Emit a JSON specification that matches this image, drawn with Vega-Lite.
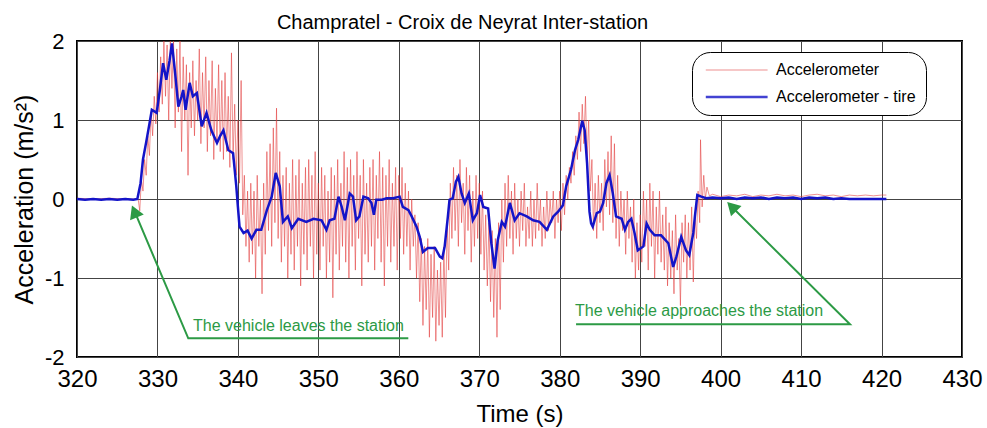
{
  "$schema": "https://vega.github.io/schema/vega-lite/v6.json",
  "width": 885,
  "height": 316,
  "autosize": {"type": "none"},
  "padding": {"left": 77, "top": 41, "right": 25, "bottom": 71},
  "background": "white",
  "config": {
    "font": "Liberation Sans",
    "view": {"stroke": "black", "strokeWidth": 2},
    "axis": {"grid": true, "gridColor": "#444444", "gridWidth": 1, "domain": false, "ticks": false, "labelColor": "black", "titleColor": "black", "titleFontWeight": "normal", "labelFlush": false, "labelOverlap": false}
  },
  "title": {"text": "Champratel - Croix de Neyrat Inter-station", "fontSize": 20, "fontWeight": "normal", "color": "black", "anchor": "middle", "dx": -57, "offset": -3},
  "datasets": {
    "red": [
      {"t":320,"a":0.01},{"t":322,"a":0},{"t":324,"a":0.01},{"t":326,"a":0},{"t":327.6,"a":0},
      {"t":327.8,"a":-0.15},{"t":328.0,"a":0.25},{"t":328.2,"a":0.1},{"t":328.4,"a":0.5},{"t":328.6,"a":0.3},{"t":328.8,"a":0.8},{"t":329.0,"a":0.55},{"t":329.2,"a":1.1},{"t":329.4,"a":0.8},{"t":329.6,"a":1.3},{"t":329.8,"a":0.95},
      {"t":330.0,"a":1.6},{"t":330.2,"a":1.1},{"t":330.4,"a":1.8},{"t":330.6,"a":1.2},{"t":330.8,"a":2.0},{"t":331.0,"a":1.3},{"t":331.2,"a":1.95},{"t":331.4,"a":1.0},{"t":331.6,"a":2.0},{"t":331.8,"a":1.4},
      {"t":332.0,"a":2.0},{"t":332.2,"a":0.9},{"t":332.4,"a":1.9},{"t":332.6,"a":1.1},{"t":332.8,"a":2.0},{"t":333.0,"a":0.6},{"t":333.2,"a":1.8},{"t":333.4,"a":1.0},{"t":333.6,"a":1.7},{"t":333.8,"a":0.3},
      {"t":334.0,"a":1.6},{"t":334.2,"a":0.9},{"t":334.4,"a":1.75},{"t":334.6,"a":0.8},{"t":334.8,"a":1.5},{"t":335.0,"a":1.0},{"t":335.2,"a":1.9},{"t":335.4,"a":0.7},{"t":335.6,"a":1.6},{"t":335.8,"a":0.9},
      {"t":336.0,"a":1.8},{"t":336.2,"a":0.6},{"t":336.4,"a":1.5},{"t":336.6,"a":0.8},{"t":336.8,"a":1.75},{"t":337.0,"a":0.5},{"t":337.2,"a":1.4},{"t":337.4,"a":0.7},{"t":337.6,"a":1.7},{"t":337.8,"a":0.6},
      {"t":338.0,"a":1.5},{"t":338.2,"a":0.5},{"t":338.4,"a":1.6},{"t":338.6,"a":0.6},{"t":338.8,"a":1.3},{"t":339.0,"a":0.4},{"t":339.2,"a":1.85},{"t":339.4,"a":0.5},{"t":339.6,"a":1.2},{"t":339.8,"a":0.3},
      {"t":340.0,"a":1.0},{"t":340.2,"a":0.2},{"t":340.4,"a":1.5},{"t":340.6,"a":-0.2},{"t":340.8,"a":0.3},{"t":341.0,"a":-0.6},{"t":341.2,"a":0.1},{"t":341.4,"a":-0.8},{"t":341.6,"a":0.2},{"t":341.8,"a":-0.7},
      {"t":342.0,"a":0.1},{"t":342.2,"a":-1.0},{"t":342.4,"a":0.3},{"t":342.6,"a":-0.6},{"t":342.8,"a":0.0},{"t":343.0,"a":-1.2},{"t":343.2,"a":0.2},{"t":343.4,"a":-0.7},{"t":343.6,"a":0.6},{"t":343.8,"a":-0.4},
      {"t":344.0,"a":0.7},{"t":344.2,"a":-0.6},{"t":344.4,"a":0.9},{"t":344.6,"a":-0.3},{"t":344.8,"a":1.15},{"t":345.0,"a":-0.5},{"t":345.2,"a":0.6},{"t":345.4,"a":-0.8},{"t":345.6,"a":0.3},{"t":345.8,"a":-0.6},
      {"t":346.0,"a":0.4},{"t":346.2,"a":-1.0},{"t":346.4,"a":0.2},{"t":346.6,"a":-0.7},{"t":346.8,"a":0.5},{"t":347.0,"a":-0.9},{"t":347.2,"a":0.3},{"t":347.4,"a":-0.6},{"t":347.6,"a":0.5},{"t":347.8,"a":-1.1},
      {"t":348.0,"a":0.2},{"t":348.2,"a":-0.7},{"t":348.4,"a":0.4},{"t":348.6,"a":-0.9},{"t":348.8,"a":0.5},{"t":349.0,"a":-0.6},{"t":349.2,"a":0.3},{"t":349.4,"a":-1.0},{"t":349.6,"a":0.6},{"t":349.8,"a":-0.7},
      {"t":350.0,"a":0.2},{"t":350.2,"a":-0.9},{"t":350.4,"a":0.4},{"t":350.6,"a":-0.6},{"t":350.8,"a":0.3},{"t":351.0,"a":-1.0},{"t":351.2,"a":0.1},{"t":351.4,"a":-0.8},{"t":351.6,"a":0.4},{"t":351.8,"a":-1.25},
      {"t":352.0,"a":0.3},{"t":352.2,"a":-0.7},{"t":352.4,"a":0.5},{"t":352.6,"a":-0.9},{"t":352.8,"a":0.2},{"t":353.0,"a":-0.6},{"t":353.2,"a":0.6},{"t":353.4,"a":-0.8},{"t":353.6,"a":0.4},{"t":353.8,"a":-1.0},
      {"t":354.0,"a":0.5},{"t":354.2,"a":-0.6},{"t":354.4,"a":0.3},{"t":354.6,"a":-0.9},{"t":354.8,"a":0.6},{"t":355.0,"a":-0.5},{"t":355.2,"a":0.3},{"t":355.4,"a":-1.1},{"t":355.6,"a":0.5},{"t":355.8,"a":-0.7},
      {"t":356.0,"a":0.2},{"t":356.2,"a":-0.8},{"t":356.4,"a":0.4},{"t":356.6,"a":-0.6},{"t":356.8,"a":0.5},{"t":357.0,"a":-0.9},{"t":357.2,"a":0.3},{"t":357.4,"a":-0.5},{"t":357.6,"a":0.6},{"t":357.8,"a":-0.8},
      {"t":358.0,"a":0.4},{"t":358.2,"a":-1.1},{"t":358.4,"a":0.3},{"t":358.6,"a":-0.6},{"t":358.8,"a":0.5},{"t":359.0,"a":-0.8},{"t":359.2,"a":0.2},{"t":359.4,"a":-0.6},{"t":359.6,"a":0.4},{"t":359.8,"a":-0.9},
      {"t":360.0,"a":0.3},{"t":360.2,"a":-0.5},{"t":360.4,"a":0.4},{"t":360.6,"a":-0.7},{"t":360.8,"a":0.2},{"t":361.0,"a":-0.6},{"t":361.2,"a":0.1},{"t":361.4,"a":-0.9},{"t":361.6,"a":0.0},{"t":361.8,"a":-0.6},
      {"t":362.0,"a":-0.2},{"t":362.2,"a":-1.0},{"t":362.4,"a":-0.3},{"t":362.6,"a":-1.3},{"t":362.8,"a":-0.5},{"t":363.0,"a":-1.6},{"t":363.2,"a":-0.6},{"t":363.4,"a":-1.4},{"t":363.6,"a":-0.5},{"t":363.8,"a":-1.75},
      {"t":364.0,"a":-0.7},{"t":364.2,"a":-1.5},{"t":364.4,"a":-0.6},{"t":364.6,"a":-1.8},{"t":364.8,"a":-0.9},{"t":365.0,"a":-1.6},{"t":365.2,"a":-0.8},{"t":365.4,"a":-1.75},{"t":365.6,"a":-0.6},{"t":365.8,"a":-1.5},
      {"t":366.0,"a":-0.3},{"t":366.2,"a":-0.9},{"t":366.4,"a":0.2},{"t":366.6,"a":-0.5},{"t":366.8,"a":0.4},{"t":367.0,"a":-0.4},{"t":367.2,"a":0.3},{"t":367.4,"a":-0.6},{"t":367.6,"a":0.5},{"t":367.8,"a":-0.3},
      {"t":368.0,"a":0.2},{"t":368.2,"a":-0.7},{"t":368.4,"a":0.4},{"t":368.6,"a":-0.4},{"t":368.8,"a":0.3},{"t":369.0,"a":-0.8},{"t":369.2,"a":0.1},{"t":369.4,"a":-0.6},{"t":369.6,"a":0.3},{"t":369.8,"a":-0.5},
      {"t":370.0,"a":0.2},{"t":370.2,"a":-0.7},{"t":370.4,"a":0.1},{"t":370.6,"a":-0.9},{"t":370.8,"a":-0.2},{"t":371.0,"a":-1.1},{"t":371.2,"a":-0.3},{"t":371.4,"a":-1.3},{"t":371.6,"a":-0.4},{"t":371.8,"a":-1.5},
      {"t":372.0,"a":-0.5},{"t":372.2,"a":-1.75},{"t":372.4,"a":-0.3},{"t":372.6,"a":-1.4},{"t":372.8,"a":0.0},{"t":373.0,"a":-0.8},{"t":373.2,"a":0.2},{"t":373.4,"a":-0.6},{"t":373.6,"a":0.3},{"t":373.8,"a":-0.5},
      {"t":374.0,"a":0.1},{"t":374.2,"a":-0.7},{"t":374.4,"a":0.2},{"t":374.6,"a":-0.5},{"t":374.8,"a":0.0},{"t":375.0,"a":-0.6},{"t":375.2,"a":0.1},{"t":375.4,"a":-0.4},{"t":375.6,"a":0.2},{"t":375.8,"a":-0.6},
      {"t":376.0,"a":-0.1},{"t":376.2,"a":-0.5},{"t":376.4,"a":0.1},{"t":376.6,"a":-0.6},{"t":376.8,"a":0.0},{"t":377.0,"a":-0.5},{"t":377.2,"a":0.2},{"t":377.4,"a":-0.4},{"t":377.6,"a":0.0},{"t":377.8,"a":-0.6},
      {"t":378.0,"a":-0.1},{"t":378.2,"a":-0.5},{"t":378.4,"a":0.1},{"t":378.6,"a":-0.4},{"t":378.8,"a":0.0},{"t":379.0,"a":-0.3},{"t":379.2,"a":0.1},{"t":379.4,"a":-0.5},{"t":379.6,"a":0.0},{"t":379.8,"a":-0.3},
      {"t":380.0,"a":0.1},{"t":380.2,"a":-0.4},{"t":380.4,"a":0.2},{"t":380.6,"a":-0.2},{"t":380.8,"a":0.3},{"t":381.0,"a":0.0},{"t":381.2,"a":0.4},{"t":381.4,"a":0.2},{"t":381.6,"a":0.6},{"t":381.8,"a":0.3},
      {"t":382.0,"a":0.8},{"t":382.2,"a":0.5},{"t":382.4,"a":1.1},{"t":382.6,"a":0.6},{"t":382.8,"a":1.2},{"t":383.0,"a":0.7},{"t":383.2,"a":1.3},{"t":383.4,"a":0.5},{"t":383.6,"a":1.0},{"t":383.8,"a":0.1},
      {"t":384.0,"a":0.5},{"t":384.2,"a":-0.4},{"t":384.4,"a":0.2},{"t":384.6,"a":-0.5},{"t":384.8,"a":0.3},{"t":385.0,"a":-0.3},{"t":385.2,"a":0.2},{"t":385.4,"a":-0.4},{"t":385.6,"a":0.5},{"t":385.8,"a":-0.1},
      {"t":386.0,"a":0.6},{"t":386.2,"a":-0.2},{"t":386.4,"a":0.8},{"t":386.6,"a":-0.3},{"t":386.8,"a":0.7},{"t":387.0,"a":-0.5},{"t":387.2,"a":0.3},{"t":387.4,"a":-0.6},{"t":387.6,"a":0.1},{"t":387.8,"a":-0.4},
      {"t":388.0,"a":0.0},{"t":388.2,"a":-0.7},{"t":388.4,"a":0.1},{"t":388.6,"a":-0.5},{"t":388.8,"a":-0.1},{"t":389.0,"a":-0.8},{"t":389.2,"a":0.0},{"t":389.4,"a":-1.0},{"t":389.6,"a":-0.3},{"t":389.8,"a":-0.9},
      {"t":390.0,"a":-0.2},{"t":390.2,"a":-0.8},{"t":390.4,"a":0.1},{"t":390.6,"a":-0.6},{"t":390.8,"a":0.0},{"t":391.0,"a":-0.9},{"t":391.2,"a":0.2},{"t":391.4,"a":-0.6},{"t":391.6,"a":0.1},{"t":391.8,"a":-1.0},
      {"t":392.0,"a":-0.1},{"t":392.2,"a":-0.7},{"t":392.4,"a":0.1},{"t":392.6,"a":-0.8},{"t":392.8,"a":-0.2},{"t":393.0,"a":-0.9},{"t":393.2,"a":-0.1},{"t":393.4,"a":-1.1},{"t":393.6,"a":-0.3},{"t":393.8,"a":-1.0},
      {"t":394.0,"a":-0.4},{"t":394.2,"a":-1.2},{"t":394.4,"a":-0.2},{"t":394.6,"a":-0.9},{"t":394.8,"a":-0.5},{"t":395.0,"a":-1.35},{"t":395.2,"a":-0.3},{"t":395.4,"a":-0.8},{"t":395.6,"a":-0.2},{"t":395.8,"a":-1.0},
      {"t":396.0,"a":-0.3},{"t":396.2,"a":-0.9},{"t":396.4,"a":-0.1},{"t":396.6,"a":-1.05},{"t":396.8,"a":-0.2},{"t":397.0,"a":-0.5},{"t":397.2,"a":0.1},{"t":397.4,"a":-0.3},{"t":397.5,"a":0.75},{"t":397.7,"a":-0.1},
      {"t":397.9,"a":0.3},{"t":398.1,"a":0.0},{"t":398.3,"a":0.15},{"t":398.6,"a":0.04},{"t":399,"a":0.06},{"t":400,"a":0.03},{"t":401,"a":0.05},{"t":402,"a":0.04},{"t":403,"a":0.06},{"t":404,"a":0.03},
      {"t":405,"a":0.05},{"t":406,"a":0.04},{"t":407,"a":0.06},{"t":408,"a":0.04},{"t":409,"a":0.05},{"t":410,"a":0.03},{"t":411,"a":0.05},{"t":412,"a":0.06},{"t":413,"a":0.04},{"t":414,"a":0.05},
      {"t":415,"a":0.03},{"t":416,"a":0.05},{"t":417,"a":0.04},{"t":418,"a":0.05},{"t":419,"a":0.04},{"t":420,"a":0.05},{"t":420.6,"a":0.05}
    ],
    "blue": [
      {"t":320,"a":0},{"t":321,"a":-0.01},{"t":322,"a":0},{"t":323,"a":-0.01},{"t":324,"a":0},{"t":325,"a":-0.01},{"t":326,"a":0},{"t":327,"a":-0.01},{"t":327.5,"a":0},
      {"t":327.9,"a":0.2},{"t":328.2,"a":0.5},{"t":328.6,"a":0.72},{"t":329.0,"a":0.95},{"t":329.3,"a":1.13},{"t":329.9,"a":1.09},{"t":330.3,"a":1.38},{"t":330.7,"a":1.72},{"t":331.1,"a":1.51},{"t":331.5,"a":1.75},
      {"t":331.8,"a":1.97},{"t":332.2,"a":1.59},{"t":332.6,"a":1.17},{"t":333.0,"a":1.3},{"t":333.2,"a":1.38},{"t":333.5,"a":1.13},{"t":334.0,"a":1.47},{"t":334.4,"a":1.30},{"t":334.9,"a":1.34},{"t":335.5,"a":0.92},
      {"t":336.1,"a":1.09},{"t":336.7,"a":0.87},{"t":337.4,"a":0.71},{"t":337.8,"a":0.8},{"t":338.2,"a":0.87},{"t":338.8,"a":0.62},{"t":339.4,"a":0.58},{"t":339.8,"a":0.16},{"t":340.0,"a":-0.1},{"t":340.2,"a":-0.35},
      {"t":340.7,"a":-0.43},{"t":341.2,"a":-0.4},{"t":341.7,"a":-0.50},{"t":342.3,"a":-0.39},{"t":342.9,"a":-0.39},{"t":343.6,"a":-0.14},{"t":344.2,"a":0.03},{"t":344.7,"a":0.33},{"t":345.2,"a":0.16},{"t":345.6,"a":-0.29},
      {"t":346.2,"a":-0.22},{"t":346.7,"a":-0.37},{"t":347.5,"a":-0.25},{"t":348.5,"a":-0.29},{"t":349.4,"a":-0.25},{"t":350.4,"a":-0.27},{"t":351.0,"a":-0.39},{"t":351.4,"a":-0.27},{"t":352.0,"a":-0.25},{"t":352.5,"a":0.03},
      {"t":352.9,"a":-0.10},{"t":353.3,"a":-0.27},{"t":353.9,"a":0.07},{"t":354.3,"a":0.03},{"t":354.7,"a":-0.27},{"t":355.1,"a":-0.22},{"t":355.6,"a":0.03},{"t":356.2,"a":0.01},{"t":356.6,"a":-0.05},{"t":356.9,"a":-0.20},
      {"t":357.2,"a":-0.01},{"t":357.9,"a":-0.01},{"t":358.5,"a":0.01},{"t":359.3,"a":0.01},{"t":360.1,"a":0.03},{"t":360.5,"a":-0.10},{"t":361.2,"a":-0.14},{"t":361.6,"a":-0.22},{"t":362.2,"a":-0.35},{"t":362.6,"a":-0.48},
      {"t":363.0,"a":-0.67},{"t":363.6,"a":-0.62},{"t":364.5,"a":-0.62},{"t":365.1,"a":-0.73},{"t":365.4,"a":-0.75},{"t":365.7,"a":-0.6},{"t":366.1,"a":-0.22},{"t":366.3,"a":-0.01},{"t":366.7,"a":0.01},{"t":367.1,"a":0.22},
      {"t":367.4,"a":0.28},{"t":367.8,"a":0.07},{"t":368.2,"a":-0.05},{"t":368.7,"a":0.07},{"t":369.2,"a":-0.27},{"t":369.7,"a":-0.18},{"t":370.1,"a":0.05},{"t":370.5,"a":-0.10},{"t":371.1,"a":-0.12},{"t":371.5,"a":-0.56},
      {"t":371.9,"a":-0.88},{"t":372.3,"a":-0.52},{"t":372.8,"a":-0.29},{"t":373.2,"a":-0.35},{"t":373.8,"a":-0.05},{"t":374.4,"a":-0.27},{"t":375.0,"a":-0.18},{"t":375.9,"a":-0.22},{"t":376.7,"a":-0.27},{"t":377.5,"a":-0.29},
      {"t":378.4,"a":-0.39},{"t":379.2,"a":-0.22},{"t":379.8,"a":-0.16},{"t":380.4,"a":-0.08},{"t":380.8,"a":0.16},{"t":381.4,"a":0.37},{"t":381.9,"a":0.62},{"t":382.3,"a":0.75},{"t":382.8,"a":0.99},{"t":383.1,"a":0.87},
      {"t":383.4,"a":0.45},{"t":383.7,"a":-0.16},{"t":383.9,"a":-0.31},{"t":384.1,"a":-0.35},{"t":384.6,"a":-0.18},{"t":385.0,"a":-0.16},{"t":385.4,"a":-0.05},{"t":385.8,"a":0.20},{"t":386.2,"a":0.30},{"t":386.6,"a":0.07},
      {"t":387.0,"a":-0.22},{"t":387.7,"a":-0.25},{"t":388.1,"a":-0.39},{"t":388.5,"a":-0.29},{"t":388.9,"a":-0.25},{"t":389.3,"a":-0.43},{"t":389.7,"a":-0.65},{"t":390.4,"a":-0.60},{"t":390.8,"a":-0.31},{"t":391.2,"a":-0.39},
      {"t":391.8,"a":-0.46},{"t":392.6,"a":-0.46},{"t":393.5,"a":-0.56},{"t":394.1,"a":-0.86},{"t":394.5,"a":-0.73},{"t":395.1,"a":-0.48},{"t":395.7,"a":-0.65},{"t":396.1,"a":-0.71},{"t":396.6,"a":-0.43},{"t":396.8,"a":-0.22},
      {"t":397.1,"a":0.05},{"t":397.6,"a":0.03},{"t":398.2,"a":0.01},{"t":399,"a":0.02},{"t":400,"a":0.01},{"t":401,"a":0.02},{"t":402,"a":0.0},{"t":403,"a":0.02},{"t":404,"a":0.01},{"t":405,"a":0.02},
      {"t":406,"a":0.0},{"t":407,"a":0.02},{"t":408,"a":0.01},{"t":409,"a":0.02},{"t":410,"a":0.0},{"t":411,"a":0.02},{"t":412,"a":0.01},{"t":413,"a":0.02},{"t":414,"a":0.0},{"t":415,"a":0.01},
      {"t":416,"a":0.0},{"t":417,"a":0.0},{"t":418,"a":0.0},{"t":419,"a":0.0},{"t":420.6,"a":0.0}
    ],
    "arrows": [
      {"g":"L","o":1,"t":361.18,"a":-1.764},{"g":"L","o":2,"t":333.83,"a":-1.764},{"g":"L","o":3,"t":327.0,"a":-0.12},
      {"g":"R","o":1,"t":382.03,"a":-1.587},{"g":"R","o":2,"t":416.08,"a":-1.587},{"g":"R","o":3,"t":401.1,"a":-0.07}
    ],
    "headL": [{"t":327.14,"a":-0.157}],
    "headR": [{"t":401.38,"a":-0.096}],
    "notes": [
      {"t":334.42,"a":-1.609,"label":"The vehicle leaves the station"},
      {"t":381.9,"a":-1.419,"label":"The vehicle approaches the station"}
    ]
  },
  "layer": [
    {
      "data": {"name": "red"},
      "mark": {"type": "line", "opacity": 0.8},
      "encoding": {
        "x": {"field": "t", "type": "quantitative", "scale": {"domain": [320, 430], "nice": false, "zero": false},
              "axis": {"values": [320,330,340,350,360,370,380,390,400,410,420,430], "labelFontSize": 24, "labelPadding": 10, "title": "Time (s)", "titleFontSize": 24, "titlePadding": 11}},
        "y": {"field": "a", "type": "quantitative", "scale": {"domain": [-2, 2], "nice": false},
              "axis": {"values": [-2,-1,0,1,2], "labelExpr": "toString(datum.value)", "labelFontSize": 22, "labelPadding": 13, "title": "Acceleration (m/s²)", "titleFontSize": 25, "titlePadding": 7}},
        "color": {"datum": "Accelerometer", "type": "nominal",
                  "scale": {"domain": ["Accelerometer", "Accelerometer - tire"], "range": ["#e23a3a", "#1414c8"]},
                  "legend": {"title": null, "orient": "none", "legendX": 615, "legendY": 11, "direction": "vertical", "fillColor": "white", "strokeColor": "black", "cornerRadius": 18, "padding": 10, "symbolType": "M-0.7,0H9.6", "symbolSize": 144, "labelOffset": 58, "labelFontSize": 16, "labelColor": "black", "rowPadding": 11, "encode": {"legend": {"update": {"strokeWidth": {"value": 2}}}}}},
        "strokeWidth": {"datum": "Accelerometer", "type": "nominal",
                  "scale": {"domain": ["Accelerometer", "Accelerometer - tire"], "range": [0.7, 2.5]},
                  "legend": {"title": null, "orient": "none", "legendX": 615, "legendY": 11, "direction": "vertical", "fillColor": "white", "strokeColor": "black", "cornerRadius": 18, "padding": 10, "symbolType": "M-0.7,0H9.6", "symbolSize": 144, "labelOffset": 58, "labelFontSize": 16, "labelColor": "black", "rowPadding": 11, "encode": {"legend": {"update": {"strokeWidth": {"value": 2}}}}}}
      }
    },
    {
      "data": {"name": "blue"},
      "mark": {"type": "line"},
      "encoding": {
        "x": {"field": "t", "type": "quantitative"},
        "y": {"field": "a", "type": "quantitative"},
        "color": {"datum": "Accelerometer - tire", "type": "nominal"},
        "strokeWidth": {"datum": "Accelerometer - tire", "type": "nominal"}
      }
    },
    {
      "data": {"name": "arrows"},
      "mark": {"type": "line", "color": "#2c9a45", "strokeWidth": 2},
      "encoding": {
        "x": {"field": "t", "type": "quantitative"},
        "y": {"field": "a", "type": "quantitative"},
        "detail": {"field": "g"},
        "order": {"field": "o", "type": "quantitative"}
      }
    },
    {
      "data": {"name": "headL"},
      "mark": {"type": "point", "shape": "triangle-up", "filled": true, "color": "#2c9a45", "size": 220, "angle": 337, "opacity": 1},
      "encoding": {"x": {"field": "t", "type": "quantitative"}, "y": {"field": "a", "type": "quantitative"}}
    },
    {
      "data": {"name": "headR"},
      "mark": {"type": "point", "shape": "triangle-up", "filled": true, "color": "#2c9a45", "size": 220, "angle": 315, "opacity": 1},
      "encoding": {"x": {"field": "t", "type": "quantitative"}, "y": {"field": "a", "type": "quantitative"}}
    },
    {
      "data": {"name": "notes"},
      "mark": {"type": "text", "align": "left", "baseline": "middle", "fontSize": 16, "color": "#2c9a45"},
      "encoding": {"x": {"field": "t", "type": "quantitative"}, "y": {"field": "a", "type": "quantitative"}, "text": {"field": "label"}}
    }
  ]
}
